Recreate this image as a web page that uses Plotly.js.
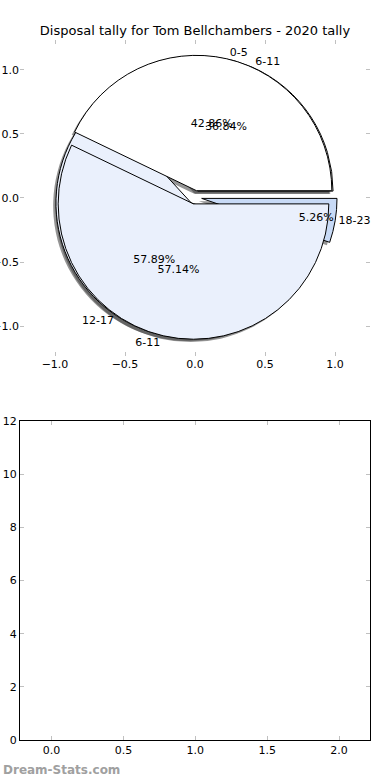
<!DOCTYPE html>
<html>
<head>
<meta charset="utf-8">
<script src="https://cdn.plot.ly/plotly-3.0.1.min.js"></script>
<style>html,body{margin:0;padding:0;background:#fff;}#chart{width:390px;height:780px;}</style>
</head>
<body>
<div id="chart"></div>
<script>
// Data
const labelsA = ['0-5', '6-11'];
const valuesA = [3, 4];
const labelsB = ['6-11', '12-17', '18-23'];
const valuesB = [7, 11, 1];
const colorsA = ['#ffffff', '#eaf0fc'];
const colorsB = ['#ffffff', '#eaf0fc', '#c8daf6'];
const titleText = 'Disposal tally for Tom Bellchambers - 2020 tally';
const pieTicks = [-1.0, -0.5, 0.0, 0.5, 1.0];
const bottomXTicks = [0.0, 0.5, 1.0, 1.5, 2.0];
const bottomYTicks = [0, 2, 4, 6, 8, 10, 12];

const FONT = 'DejaVu Sans, sans-serif';
const pullA = valuesA.map(() => 0.05);
const pullB = valuesB.map(() => 0.05);

// plot area: x 20..370 (350px), y 40..740 (700px)
const pieDomain = {x: [0.094, 0.906], y: [0.5723, 0.9783]};
const shadowDomain = {x: [0.094 - 0.008, 0.906 - 0.008], y: [0.5723 - 0.004, 0.9783 - 0.004]};

// first wedge starts at 3 o'clock and the wedges run counterclockwise (matplotlib style)
function rot(values) {
  const total = values.reduce((a, b) => a + b, 0);
  return 90 - 360 * values[0] / total;
}
function base(labels, values, pull, domain) {
  return {type: 'pie', labels: labels, values: values, pull: pull, sort: false,
    direction: 'counterclockwise', rotation: rot(values), domain: domain, showlegend: false};
}
function shadow(labels, values, pull) {
  return Object.assign(base(labels, values, pull, shadowDomain), {
    marker: {colors: values.map(() => 'rgba(60,60,60,0.55)'), line: {width: 0}},
    textinfo: 'none', hoverinfo: 'skip'});
}
function main(labels, values, pull, colors) {
  return Object.assign(base(labels, values, pull, pieDomain), {
    marker: {colors: colors, line: {color: '#000', width: 1}}, textinfo: 'none'});
}
function pctTrace(labels, values, pull) {
  return Object.assign(base(labels, values, pull, pieDomain), {
    marker: {colors: values.map(() => 'rgba(0,0,0,0)'), line: {width: 0}},
    texttemplate: '%{percent:.2%}', textposition: 'inside', insidetextorientation: 'horizontal',
    insidetextfont: {family: FONT, size: 11, color: '#000'}, hoverinfo: 'skip'});
}
function labelTrace(labels, values, pull) {
  return Object.assign(base(labels, values, pull, pieDomain), {
    marker: {colors: values.map(() => 'rgba(0,0,0,0)'), line: {width: 0}},
    texttemplate: '%{label}', textposition: 'outside',
    outsidetextfont: {family: FONT, size: 11, color: '#000'}, hoverinfo: 'skip'});
}

const data = [
  {type: 'scatter', x: [], y: [], xaxis: 'x', yaxis: 'y', showlegend: false},
  {type: 'scatter', x: [], y: [], xaxis: 'x2', yaxis: 'y2', showlegend: false},
  shadow(labelsB, valuesB, pullB),
  shadow(labelsA, valuesA, pullA),
  main(labelsB, valuesB, pullB, colorsB),
  main(labelsA, valuesA, pullA, colorsA),
  pctTrace(labelsB, valuesB, pullB),
  pctTrace(labelsA, valuesA, pullA),
  labelTrace(labelsB, valuesB, pullB),
  labelTrace(labelsA, valuesA, pullA)
];

const tickCommon = {ticks: 'inside', ticklen: 4, tickwidth: 1, tickcolor: '#c0c0c0',
  tickfont: {family: FONT, size: 11, color: '#000'}, showgrid: false, zeroline: false};
const fmt = v => v.toFixed(1).replace('-', '\u2212');

const layout = {
  width: 390, height: 780,
  margin: {l: 20, r: 20, t: 40, b: 40},
  paper_bgcolor: '#fff', plot_bgcolor: 'rgba(0,0,0,0)',
  font: {family: FONT, size: 11, color: '#000'},
  title: {text: titleText, font: {family: FONT, size: 13, color: '#000'},
    x: 0.5, xanchor: 'center', xref: 'container', y: 1 - 30/780, yanchor: 'middle', yref: 'container'},
  uniformtext: {minsize: 11, mode: 'show'},
  xaxis: Object.assign({}, tickCommon, {domain: [0, 1], range: [-1.25, 1.25], tickvals: pieTicks,
    ticktext: pieTicks.map(fmt), showline: false, mirror: 'allticks', anchor: 'y'}),
  yaxis: Object.assign({}, tickCommon, {domain: [0.5486, 1], range: [-1.234, 1.234], tickvals: pieTicks,
    ticktext: pieTicks.map(fmt), showline: false, mirror: 'allticks', anchor: 'x'}),
  xaxis2: Object.assign({}, tickCommon, {domain: [0, 1], range: [-0.22, 2.215], tickvals: bottomXTicks,
    ticktext: bottomXTicks.map(v => v.toFixed(1)), showline: true, linecolor: '#000', linewidth: 1, mirror: 'allticks', anchor: 'y2'}),
  yaxis2: Object.assign({}, tickCommon, {domain: [0, 0.4557], range: [0, 12], tickvals: bottomYTicks,
    showline: true, linecolor: '#000', linewidth: 1, mirror: 'allticks', anchor: 'x2'}),
  annotations: [{text: 'Dream-Stats.com', xref: 'paper', yref: 'paper', x: 0, xshift: -19, y: -0.043,
    xanchor: 'left', yanchor: 'middle', showarrow: false,
    font: {family: FONT, size: 12, color: '#a0a0a0', weight: 'bold'}}]
};

Plotly.newPlot('chart', data, layout, {staticPlot: true, displayModeBar: false});
</script>
</body>
</html>
